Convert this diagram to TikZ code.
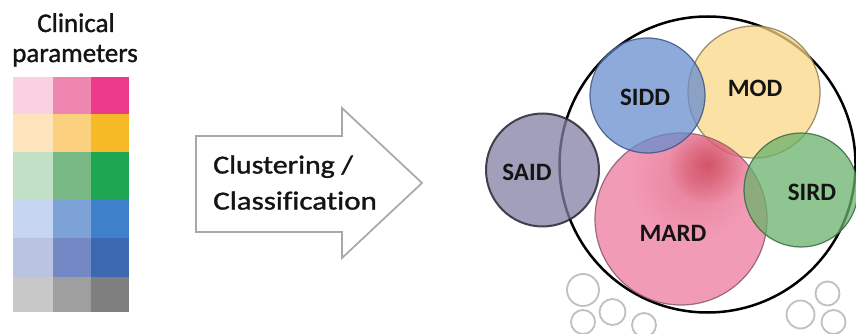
\documentclass[tikz,border=0pt]{standalone}
\usepackage{fontspec}
\setmainfont{Carlito}
\newfontfamily\heavyfont[FakeBold=1.2, Ligatures=NoCommon]{Carlito}
\usetikzlibrary{fadings}
\tikzfading[name=blobfade, inner color=transparent!0, outer color=transparent!100]
\definecolor{txt}{HTML}{141414}
\definecolor{arrowgray}{HTML}{A8A8A8}
\definecolor{smallgray}{HTML}{C0C0C0}
\definecolor{saidfill}{RGB}{130,127,163}
\definecolor{saidline}{HTML}{2A2838}
\definecolor{siddfill}{RGB}{103,142,207}
\definecolor{siddline}{HTML}{3E5583}
\definecolor{modfill}{RGB}{251,216,135}
\definecolor{modline}{HTML}{8A7A55}
\definecolor{mardfill}{RGB}{238,122,158}
\definecolor{mardline}{HTML}{8A5A68}
\definecolor{sirdfill}{RGB}{106,178,107}
\definecolor{sirdline}{HTML}{3A6A42}
\definecolor{blob}{HTML}{C02838}
\tikzset{
  header/.style={font=\heavyfont\fontsize{27}{31}\selectfont, text=txt, inner sep=0pt},
  arrowtext/.style={font=\heavyfont\fontsize{26}{31}\selectfont, text=txt, inner sep=0pt},
  clabel/.style={font=\bfseries\fontsize{25}{30}\selectfont, text=txt, inner sep=0pt},
  cluster/.style={fill opacity=0.75, draw opacity=0.85, line width=1.2pt},
  smallc/.style={draw=smallgray, line width=1.8pt},
}
\begin{document}
\begin{tikzpicture}[x=1pt,y=-1pt]
\useasboundingbox[fill=white] (0,0) rectangle (856,334);
% header
\node[header, anchor=base] (h1) at (76,32) {Clinical};
\node[header, anchor=base] (h2) at (75,62) {parameters};
% grid of parameters
\foreach \ya/\yb/\ca/\cb/\cc in {
  76.7/114.3/FAD1E1/EF86B0/EB3B8A,
  114.3/152.3/FEE4BC/FBD17F/F7BA27,
  152.3/200/C2E0C5/78B985/1FA652,
  200/237.7/C7D6F0/7CA2D8/3E81CA,
  237.7/276.7/BBC3E3/7488C5/3C67B1,
  276.7/311.7/C8C8C8/9F9F9F/7F7F7F}{
  \definecolor{ca}{HTML}{\ca}\definecolor{cb}{HTML}{\cb}\definecolor{cc}{HTML}{\cc}
  \fill[ca] (12.7,\ya) rectangle (52.7,\yb);
  \fill[cb] (52.7,\ya) rectangle (90.7,\yb);
  \fill[cc] (90.7,\ya) rectangle (129.3,\yb);
}
% arrow
\draw[arrowgray, line width=1.7pt, line join=miter, fill=white]
  (196,136) -- (342,136) -- (342,108) -- (422,183) -- (342,258) -- (342,232) -- (196,232) -- cycle;
\node[arrowtext, anchor=base west, xscale=1.15] (a1) at (213,173.5) {Clustering /};
\node[arrowtext, anchor=base west, xscale=1.19] (a2) at (213,209.5) {Classification};
% big circle
\draw[black, line width=2.5pt] (707.5,164.5) circle (148);
% clusters
\filldraw[cluster, fill=modfill, draw=modline] (754,92) circle (66);
\filldraw[cluster, fill=mardfill, draw=mardline] (681,219) circle (86);
\begin{scope}
  \clip (681,219) circle (85);
  \fill[blob, fill opacity=0.22, path fading=blobfade] (692,180) circle (62);
  \fill[blob, fill opacity=0.55, path fading=blobfade] (708,164) circle (40);
\end{scope}
\filldraw[cluster, fill=siddfill, draw=siddline] (647.5,95.5) circle (57.5);
\filldraw[cluster, fill=sirdfill, draw=sirdline] (801,190) circle (57);
\filldraw[cluster, fill=saidfill, draw=saidline, line width=2pt] (542.5,170) circle (56.5);
% labels
\node[clabel] (sidd) at (645,97) {SIDD};
\node[clabel] (mod) at (755,88) {MOD};
\node[clabel] (said) at (527,172) {SAID};
\node[clabel] (sird) at (812,192) {SIRD};
\node[clabel] (mard) at (673,233) {MARD};
% small outlier circles
\draw[smallc] (583,290) circle (16);
\draw[smallc] (612.5,312) circle (13);
\draw[smallc] (583,322) circle (12);
\draw[smallc] (644,325) circle (12);
\draw[smallc] (827.5,293.5) circle (12);
\draw[smallc] (800.5,314.5) circle (14);
\draw[smallc] (833.5,322) circle (12);
\end{tikzpicture}
\end{document}
